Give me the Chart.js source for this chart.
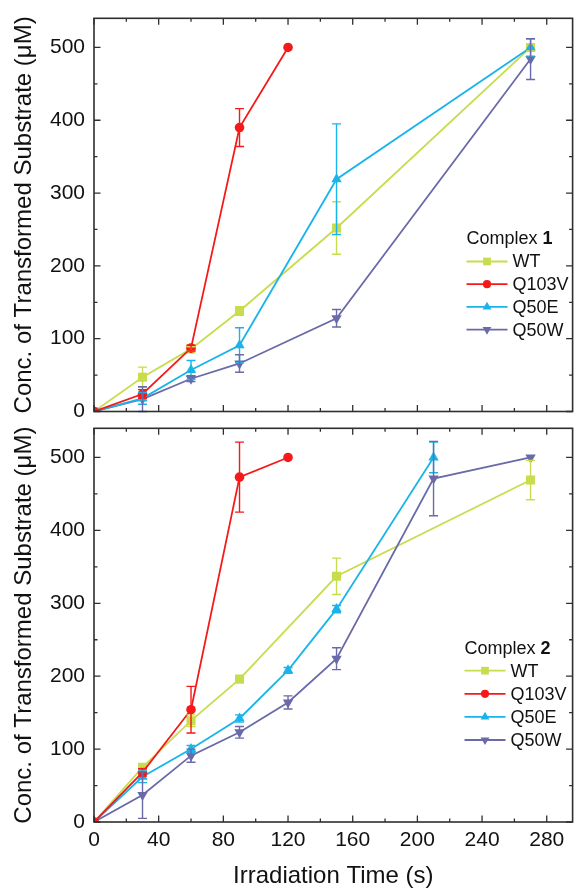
<!DOCTYPE html>
<html><head><meta charset="utf-8">
<script src="https://cdn.jsdelivr.net/npm/chart.js@4.4.1/dist/chart.umd.min.js"></script>
<style>
html,body{margin:0;padding:0;background:#fff;width:579px;height:891px;overflow:hidden}
canvas{position:absolute;left:0}
#c1{top:0}
#c2{top:420px}
</style></head><body>
<canvas id="c1" width="579" height="420"></canvas>
<canvas id="c2" width="579" height="471"></canvas>
<script>
// ---------- data ----------
const xMajorTicks = [0,40,80,120,160,200,240,280];
const yMajorTicks = [0,100,200,300,400,500];
const seriesNames = ['WT','Q103V','Q50E','Q50W'];
const yTitle = 'Conc. of Transformed Substrate (\u03bcM)';
const xTitle = 'Irradiation Time (s)';

// Complex 1
const c1_WT_t    = [0,30,60,90,150,270];
const c1_WT      = [0,47,86,138,252,500];
const c1_WT_err  = [0,14,3,6,36,5];
const c1_Q103V_t   = [0,30,60,90,120];
const c1_Q103V     = [0,24,87,390,500];
const c1_Q103V_err = [0,6,4,26,0];
const c1_Q50E_t   = [0,30,60,90,150,270];
const c1_Q50E     = [0,18,57,91,319,500];
const c1_Q50E_err = [0,8,13,24,76,12];
const c1_Q50W_t   = [0,30,60,90,150,270];
const c1_Q50W     = [0,17,45,66,128,484];
const c1_Q50W_err = [0,17,4,12,12,28];

// Complex 2
const c2_WT_t    = [0,30,60,90,150,270];
const c2_WT      = [0,75,139,196,337,469];
const c2_WT_err  = [0,4,8,4,25,27];
const c2_Q103V_t   = [0,30,60,90,120];
const c2_Q103V     = [0,68,154,473,500];
const c2_Q103V_err = [0,5,32,48,0];
const c2_Q50E_t   = [0,30,60,90,120,150,210];
const c2_Q50E     = [0,62,100,142,208,292,500];
const c2_Q50E_err = [0,8,5,5,4,5,21];
const c2_Q50W_t   = [0,30,60,90,120,150,210,270];
const c2_Q50W     = [0,37,91,123,164,224,471,500];
const c2_Q50W_err = [0,32,9,8,9,15,51,0];

// ---------- styles ----------
const FONT = "'Liberation Sans', Arial, Helvetica, sans-serif";
const COLORS = {WT:'#c8dc4e', Q103V:'#f51a1a', Q50E:'#1ab4ea', Q50W:'#6a6aa8'};
const STYLE = {WT:{pointStyle:'rect',pointRadius:6.4,rot:0},
               Q103V:{pointStyle:'circle',pointRadius:4.8,rot:0},
               Q50E:{pointStyle:'triangle',pointRadius:6,rot:0},
               Q50W:{pointStyle:'triangle',pointRadius:6,rot:180}};

function mk(name, t, v, e, order){
  const c = COLORS[name], s = STYLE[name];
  return {label:name, data:t.map((tt,i)=>({x:tt,y:v[i]})), errors:e,
    borderColor:c, backgroundColor:c, borderWidth:1.8,
    pointStyle:s.pointStyle, pointRadius:s.pointRadius, pointRotation:s.rot,
    pointBorderWidth:0, pointHoverRadius:s.pointRadius, tension:0, order:order};
}

// ---------- plugins ----------
const errorBars = {
  id:'errorBars',
  afterDatasetsDraw(chart){
    const {ctx, scales:{x,y}} = chart;
    ctx.save();
    chart.data.datasets.forEach(ds=>{
      ctx.strokeStyle = ds.borderColor; ctx.lineWidth = 1.4;
      ds.data.forEach((p,i)=>{
        const e = ds.errors[i]; if(!e) return;
        const px = x.getPixelForValue(p.x);
        const y1 = y.getPixelForValue(p.y+e), y2 = y.getPixelForValue(Math.max(0,p.y-e));
        ctx.beginPath();
        ctx.moveTo(px,y1); ctx.lineTo(px,y2);
        ctx.moveTo(px-4.5,y1); ctx.lineTo(px+4.5,y1);
        ctx.moveTo(px-4.5,y2); ctx.lineTo(px+4.5,y2);
        ctx.stroke();
      });
    });
    ctx.restore();
  }
};

const frameTicks = {
  id:'frameTicks',
  afterDraw(chart){
    const {ctx, chartArea:a, scales:{x,y}} = chart;
    ctx.save();
    ctx.strokeStyle = '#2f2f2f';
    ctx.lineWidth = 1.6;
    ctx.strokeRect(a.left, a.top, a.right-a.left, a.bottom-a.top);
    ctx.lineWidth = 1.3;
    ctx.beginPath();
    x.ticks.forEach(t=>{
      const px = x.getPixelForValue(t.value);
      const L = xMajorTicks.includes(t.value) ? 6.5 : 3.5;
      ctx.moveTo(px,a.bottom); ctx.lineTo(px,a.bottom-L);
      ctx.moveTo(px,a.top); ctx.lineTo(px,a.top+L);
    });
    y.ticks.forEach(t=>{
      const py = y.getPixelForValue(t.value);
      const L = yMajorTicks.includes(t.value) ? 6.5 : 3.5;
      ctx.moveTo(a.left,py); ctx.lineTo(a.left+L,py);
      ctx.moveTo(a.right,py); ctx.lineTo(a.right-L,py);
    });
    ctx.stroke();
    ctx.restore();
  }
};

function drawMarker(ctx, style, x, y, r, rot){
  ctx.beginPath();
  if(style==='rect'){ const s=r*Math.SQRT1_2; ctx.rect(x-s,y-s,2*s,2*s); }
  else if(style==='circle'){ ctx.arc(x,y,r,0,Math.PI*2); }
  else { let a = rot*Math.PI/180;
    for(let k=0;k<3;k++){ const ang=a+k*2*Math.PI/3;
      const px=x+Math.sin(ang)*r, py=y-Math.cos(ang)*r;
      if(k===0) ctx.moveTo(px,py); else ctx.lineTo(px,py); }
    ctx.closePath(); }
  ctx.fill();
}

const boxLegend = {
  id:'boxLegend',
  afterDraw(chart, args, o){
    const ctx = chart.ctx;
    ctx.save();
    ctx.textBaseline = 'middle'; ctx.textAlign = 'left'; ctx.fillStyle = '#111';
    ctx.font = `18px ${FONT}`;
    ctx.fillText('Complex ', o.x, o.titleY);
    const w = ctx.measureText('Complex ').width;
    ctx.font = `bold 18px ${FONT}`;
    ctx.fillText(o.num, o.x+w, o.titleY);
    ctx.font = `18px ${FONT}`;
    seriesNames.forEach((n,i)=>{
      const yy = o.firstY + i*o.dy;
      const c = COLORS[n], s = STYLE[n];
      ctx.strokeStyle = c; ctx.lineWidth = 1.8;
      ctx.beginPath(); ctx.moveTo(o.x, yy); ctx.lineTo(o.x+41, yy); ctx.stroke();
      ctx.fillStyle = c;
      drawMarker(ctx, s.pointStyle, o.x+20.5, yy, s.pointRadius*0.85, s.rot);
      ctx.fillStyle = '#111';
      ctx.fillText(n, o.x+46, yy+1);
    });
    ctx.restore();
  }
};

function zeroPad(s){ s.paddingTop = 0; s.paddingBottom = 0; s.paddingLeft = 0; s.paddingRight = 0; }

function makeChart(id, datasets, isBottom, legendOpts){
  return new Chart(document.getElementById(id), {
    type:'line',
    data:{datasets},
    plugins:[errorBars, frameTicks, boxLegend],
    options:{
      responsive:false, animation:false, devicePixelRatio:1,
      layout:{padding:{top: isBottom ? 8.3 : 18.3, right:2, bottom: isBottom ? 0 : 8.5, left:0}},
      plugins:{legend:{display:false}, tooltip:{enabled:false}, boxLegend:legendOpts},
      scales:{
        x:{type:'linear', min:0, max:296,
           grid:{display:false, drawTicks:false}, border:{display:false},
           ticks:{stepSize:20, includeBounds:false, display:isBottom, maxRotation:0, autoSkip:false,
                  padding:6, color:'#111', font:{family:FONT, size:21},
                  callback:(v)=> xMajorTicks.includes(v) ? String(v) : ''},
           title:{display:isBottom, text:xTitle, color:'#111', font:{family:FONT, size:24, lineHeight:1.2}, padding:{top:0,bottom:0}},
           afterFit:(s)=>{ s.height = isBottom ? 69 : 0; zeroPad(s); }
        },
        y:{type:'linear', min:0, max:540,
           grid:{display:false, drawTicks:false}, border:{display:false},
           ticks:{stepSize:50, includeBounds:false, padding:9, color:'#111', font:{family:FONT, size:21},
                  callback:(v)=> yMajorTicks.includes(v) ? String(v) : ''},
           title:{display:true, text:yTitle, color:'#111', font:{family:FONT, size:24, lineHeight:1.2}, padding:{top:10,bottom:0}},
           afterFit:(s)=>{ s.width = 94; zeroPad(s); }
        }
      }
    }
  });
}

makeChart('c1', [
  mk('WT', c1_WT_t, c1_WT, c1_WT_err, 3),
  mk('Q103V', c1_Q103V_t, c1_Q103V, c1_Q103V_err, 0),
  mk('Q50E', c1_Q50E_t, c1_Q50E, c1_Q50E_err, 1),
  mk('Q50W', c1_Q50W_t, c1_Q50W, c1_Q50W_err, 2)
], false, {x:466.5, titleY:239, firstY:261.5, dy:22.7, num:'1'});

makeChart('c2', [
  mk('WT', c2_WT_t, c2_WT, c2_WT_err, 3),
  mk('Q103V', c2_Q103V_t, c2_Q103V, c2_Q103V_err, 0),
  mk('Q50E', c2_Q50E_t, c2_Q50E, c2_Q50E_err, 1),
  mk('Q50W', c2_Q50W_t, c2_Q50W, c2_Q50W_err, 2)
], true, {x:464.5, titleY:229.5, firstY:250.7, dy:23.1, num:'2'});
</script>
</body></html>
